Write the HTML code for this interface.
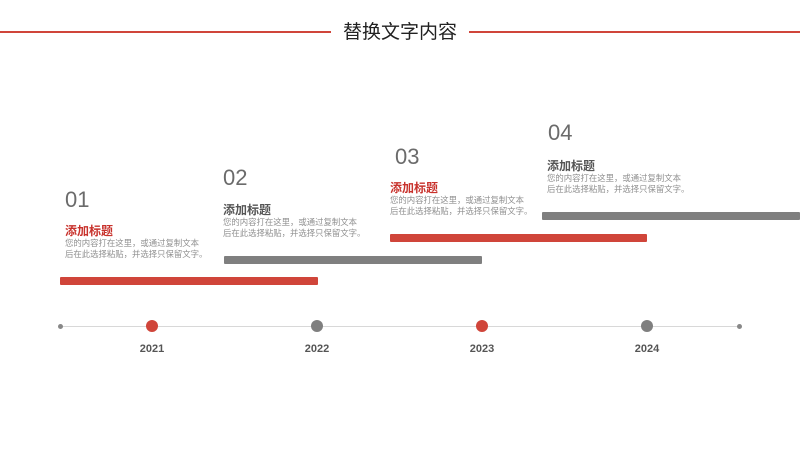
<!DOCTYPE html>
<html><head><meta charset="utf-8"><style>
body{margin:0;width:800px;height:450px;background:#fff;position:relative;overflow:hidden;font-family:"Liberation Sans","Noto Sans CJK SC",sans-serif}
div{position:absolute;white-space:nowrap}
.num{font-size:22px;color:#6b6b6b;line-height:22px}
.t{font-size:12px;font-weight:bold;line-height:14px}
.d{font-size:8.4px;color:#909090;line-height:11px}
.bar{height:8px;border-radius:1px}
.red{background:#d0453a}.gray{background:#7f7f7f}
.c{width:12px;height:12px;border-radius:50%;top:320px}
.y{font-size:11px;font-weight:bold;color:#555;top:343px;width:60px;text-align:center}
</style></head><body>
<div style="left:0;top:31px;width:331px;height:2px;background:#d0453a"></div>
<div style="left:469px;top:31px;width:331px;height:2px;background:#d0453a"></div>
<div style="left:331px;top:21px;width:138px;text-align:center;font-size:19px;color:#222;line-height:24px">替换文字内容</div>

<div class="num" style="left:65px;top:189px">01</div>
<div class="t" style="left:65px;top:224px;color:#c8322c">添加标题</div>
<div class="d" style="left:65px;top:238px">您的内容打在这里，或通过复制文本<br>后在此选择粘贴，并选择只保留文字。</div>
<div class="bar red" style="left:60px;top:277px;width:258px"></div>

<div class="num" style="left:223px;top:167px">02</div>
<div class="t" style="left:223px;top:203px;color:#555">添加标题</div>
<div class="d" style="left:223px;top:217px">您的内容打在这里，或通过复制文本<br>后在此选择粘贴，并选择只保留文字。</div>
<div class="bar gray" style="left:224px;top:256px;width:258px"></div>

<div class="num" style="left:395px;top:146px">03</div>
<div class="t" style="left:390px;top:181px;color:#c8322c">添加标题</div>
<div class="d" style="left:390px;top:195px">您的内容打在这里，或通过复制文本<br>后在此选择粘贴，并选择只保留文字。</div>
<div class="bar red" style="left:390px;top:234px;width:257px"></div>

<div class="num" style="left:548px;top:122px">04</div>
<div class="t" style="left:547px;top:159px;color:#555">添加标题</div>
<div class="d" style="left:547px;top:173px">您的内容打在这里，或通过复制文本<br>后在此选择粘贴，并选择只保留文字。</div>
<div class="bar gray" style="left:542px;top:212px;width:258px"></div>

<div style="left:60px;top:326px;width:680px;height:1px;background:#d8d8d8"></div>
<div style="left:58px;top:324px;width:5px;height:5px;border-radius:50%;background:#888"></div>
<div style="left:737px;top:324px;width:5px;height:5px;border-radius:50%;background:#888"></div>
<div class="c" style="left:146px;background:#d0453a"></div>
<div class="c" style="left:311px;background:#7f7f7f"></div>
<div class="c" style="left:476px;background:#d0453a"></div>
<div class="c" style="left:641px;background:#7f7f7f"></div>
<div class="y" style="left:122px">2021</div>
<div class="y" style="left:287px">2022</div>
<div class="y" style="left:452px">2023</div>
<div class="y" style="left:617px">2024</div>
</body></html>
